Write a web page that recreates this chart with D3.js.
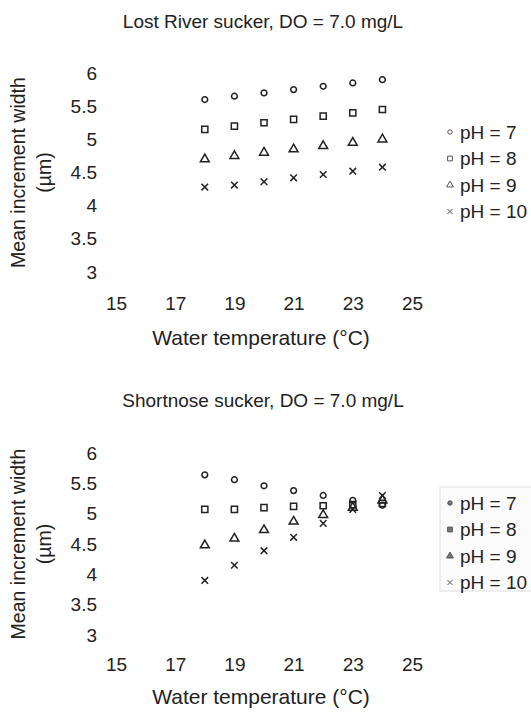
<!DOCTYPE html>
<html>
<head>
<meta charset="utf-8">
<script src="https://cdn.jsdelivr.net/npm/d3@7"></script>
<style>
  body { margin: 0; background: #fff; }
  text { font-family: "Liberation Sans", Arial, sans-serif; fill: #222; }
</style>
</head>
<body>
<script>
// data
var temps = [18, 19, 20, 21, 22, 23, 24];
var phLabels = ["pH = 7", "pH = 8", "pH = 9", "pH = 10"];
var xTicks = [15, 17, 19, 21, 23, 25];
var yTicks = [3, 3.5, 4, 4.5, 5, 5.5, 6];

// Lost River sucker
var lrs_ph7 = [5.6, 5.65, 5.7, 5.75, 5.8, 5.85, 5.9];
var lrs_ph8 = [5.15, 5.2, 5.25, 5.3, 5.35, 5.4, 5.45];
var lrs_ph9 = [4.7, 4.75, 4.8, 4.85, 4.9, 4.95, 5.0];
var lrs_ph10 = [4.28, 4.31, 4.36, 4.42, 4.47, 4.52, 4.58];

// Shortnose sucker
var sns_ph7 = [5.64, 5.56, 5.46, 5.38, 5.3, 5.22, 5.14];
var sns_ph8 = [5.07, 5.07, 5.1, 5.12, 5.13, 5.15, 5.17];
var sns_ph9 = [4.48, 4.59, 4.73, 4.87, 4.98, 5.1, 5.22];
var sns_ph10 = [3.9, 4.15, 4.39, 4.61, 4.84, 5.07, 5.3];

var w = 531, h = 715;

var svg = d3.select("body")
            .append("svg")
            .attr("width", w)
            .attr("height", h);

var symX = d3.symbolTimes || d3.symbolX;
var symbols = [d3.symbolCircle, d3.symbolSquare, d3.symbolTriangle, symX];
var symSizes = [26, 38, 34, 30];

function drawChart(opts) {
  var x = d3.scaleLinear().domain([15, 25]).range([116, 412]);
  var y = d3.scaleLinear().domain([3, 6]).range([opts.bottom, opts.top]);

  // title
  svg.append("text")
    .attr("x", 263)
    .attr("y", opts.titleY)
    .attr("dy", "0.35em")
    .attr("text-anchor", "middle")
    .style("font-size", "19px")
    .text(opts.title);

  // y axis, labels only
  var yAxis = d3.axisLeft(y)
    .tickValues(yTicks)
    .tickFormat(function(d) { return String(d); })
    .tickSize(0)
    .tickPadding(19);

  var gy = svg.append("g")
    .attr("transform", "translate(116,0)")
    .call(yAxis);
  gy.select(".domain").remove();
  gy.selectAll("text")
    .style("font-size", "19px")
    .style("font-family", "Liberation Sans, Arial, sans-serif")
    .attr("fill", "#222");

  // x axis
  var xAxis = d3.axisBottom(x)
    .tickValues(xTicks)
    .tickSize(0)
    .tickPadding(0);

  var gx = svg.append("g")
    .attr("transform", "translate(0," + opts.bottom + ")")
    .call(xAxis);
  gx.select(".domain").remove();
  gx.selectAll("text")
    .attr("y", opts.xLabelGap)
    .attr("dy", "0.35em")
    .style("font-size", "19px")
    .style("font-family", "Liberation Sans, Arial, sans-serif")
    .attr("fill", "#222");

  // axis titles
  svg.append("text")
    .attr("x", 261)
    .attr("y", opts.xTitleY)
    .attr("dy", "0.35em")
    .attr("text-anchor", "middle")
    .style("font-size", "21px")
    .text("Water temperature (°C)");

  var cy = (opts.top + opts.bottom) / 2;
  svg.append("text")
    .attr("transform", "translate(18," + cy + ") rotate(-90)")
    .attr("dy", "0.35em")
    .attr("text-anchor", "middle")
    .style("font-size", "19.5px")
    .text("Mean increment width");
  svg.append("text")
    .attr("transform", "translate(44," + cy + ") rotate(-90)")
    .attr("dy", "0.35em")
    .attr("text-anchor", "middle")
    .style("font-size", "19.5px")
    .text("(µm)");

  // points
  opts.series.forEach(function(vals, si) {
    svg.append("g")
      .selectAll("path")
      .data(vals)
      .enter()
      .append("path")
      .attr("transform", function(d, i) { return "translate(" + x(temps[i]) + "," + y(d) + ")"; })
      .attr("d", d3.symbol().type(symbols[si]).size(symSizes[si]))
      .attr("fill", "none")
      .attr("stroke", "#222")
      .attr("stroke-width", 1.5);
  });

  // legend
  if (opts.legendBox) {
    svg.append("rect")
      .attr("x", 440)
      .attr("y", opts.legendY - 16)
      .attr("width", 100)
      .attr("height", 104)
      .attr("fill", "#fbfbfb")
      .attr("stroke", "#ddd");
  }
  var lg = svg.append("g");
  phLabels.forEach(function(lab, i) {
    var ly = opts.legendY + i * 26.5;
    lg.append("path")
      .attr("transform", "translate(450," + ly + ")")
      .attr("d", d3.symbol().type(symbols[i]).size(symSizes[i] * 0.6))
      .attr("fill", opts.legendBox ? "#777" : "none")
      .attr("stroke", "#555")
      .attr("stroke-width", 1);
    lg.append("text")
      .attr("x", 460)
      .attr("y", ly)
      .attr("dy", "0.35em")
      .style("font-size", "19px")
      .text(lab);
  });
}

drawChart({
  title: "Lost River sucker, DO = 7.0 mg/L",
  titleY: 21,
  top: 73,
  bottom: 272,
  xLabelGap: 31,
  xTitleY: 338,
  legendY: 132,
  legendBox: false,
  series: [lrs_ph7, lrs_ph8, lrs_ph9, lrs_ph10]
});

drawChart({
  title: "Shortnose sucker, DO = 7.0 mg/L",
  titleY: 400,
  top: 453,
  bottom: 635,
  xLabelGap: 29,
  xTitleY: 697,
  legendY: 503,
  legendBox: true,
  series: [sns_ph7, sns_ph8, sns_ph9, sns_ph10]
});
</script>
</body>
</html>
